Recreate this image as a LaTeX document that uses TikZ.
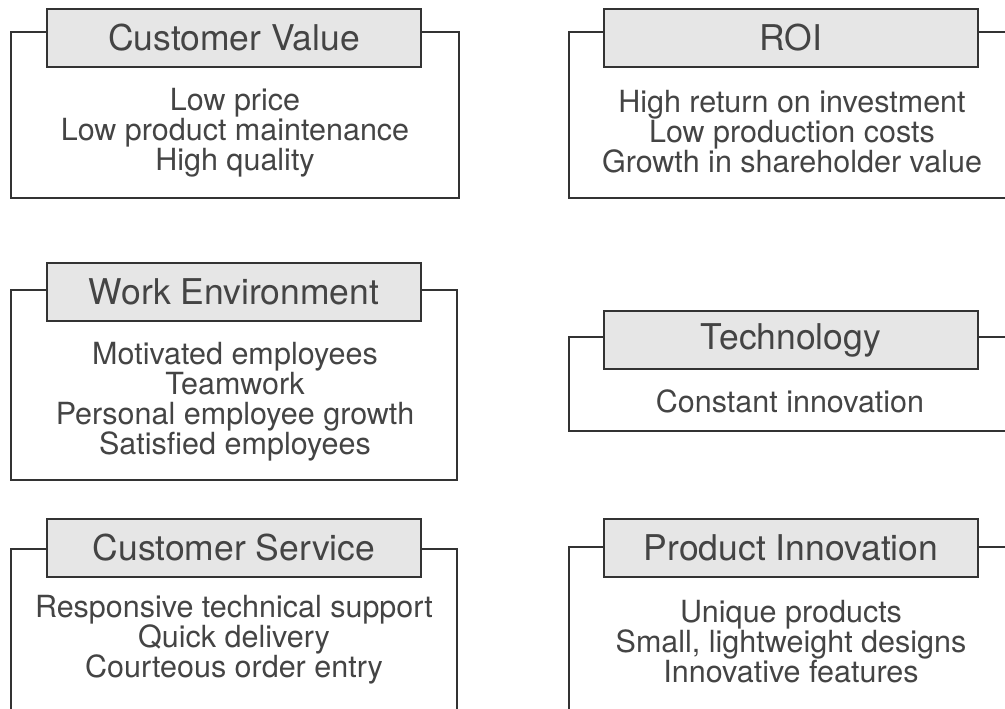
\documentclass[tikz,border=0pt]{standalone}
\usepackage{fontspec}
\setmainfont{TeX Gyre Heros}
\definecolor{framegray}{HTML}{333333}
\definecolor{titlefill}{HTML}{E6E6E6}
\definecolor{textgray}{HTML}{444444}
\tikzset{
  groupframe/.style={draw=framegray, line width=1.6pt},
  titlebox/.style={draw=framegray, line width=1.6pt, fill=titlefill,
    minimum width=374pt, minimum height=58pt, inner sep=0pt,
    text=textgray, font=\fontsize{35.5}{35.5}\selectfont},
  bodytext/.style={align=center, inner sep=0pt, text=textgray,
    font=\fontsize{30.5}{30}\selectfont}
}

\begin{document}
\begin{tikzpicture}[x=1pt, y=-1pt]
  \useasboundingbox (0,0) rectangle (1005,709);
  \clip (0,0) rectangle (1005,709);
  % left column
  \draw[groupframe] (11,32) rectangle (459,198);
  \node[titlebox] (cv) at (234,38) {Customer Value};
  \node[bodytext] (cvtext) at (235,133) {Low price\\Low product maintenance\\High quality};
  \draw[groupframe] (11,290) rectangle (457,480);
  \node[titlebox] (we) at (234,292) {Work Environment};
  \node[bodytext] (wetext) at (235,401.5) {Motivated employees\\Teamwork\\Personal employee growth\\Satisfied employees};
  \draw[groupframe] (11,549) rectangle (457,730);
  \node[titlebox] (cs) at (234,548) {Customer Service};
  \node[bodytext] (cstext) at (234,640) {Responsive technical support\\Quick delivery\\Courteous order entry};
  % right column
  \draw[groupframe] (569,32) rectangle (1020,198);
  \node[titlebox] (roi) at (791,38) {ROI};
  \node[bodytext] (roitext) at (792,132) {High return on investment\\Low production costs\\Growth in shareholder value};
  \draw[groupframe] (569,337) rectangle (1020,431);
  \node[titlebox] (tech) at (791,340) {Technology};
  \node[bodytext] (techtext) at (790,401) {Constant innovation};
  \draw[groupframe] (569,547) rectangle (1020,730);
  \node[titlebox] (pi) at (791,548) {Product Innovation};
  \node[bodytext] (pitext) at (791,642) {Unique products\\Small, lightweight designs\\Innovative features};
\end{tikzpicture}
\end{document}
